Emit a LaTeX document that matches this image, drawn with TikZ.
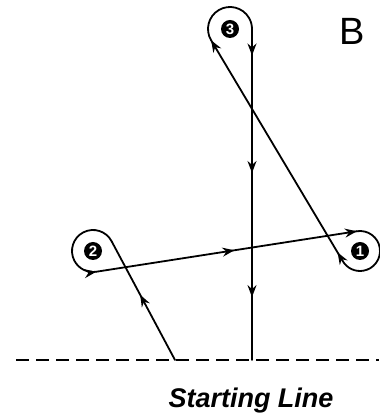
\documentclass[tikz,border=0pt]{standalone}
\usepackage{fontspec}
\newfontfamily\arialfont{Liberation Sans}
\usetikzlibrary{positioning, arrows.meta, calc, decorations.markings}

\begin{document}
\begin{tikzpicture}[
        x=1pt, y=1pt,
        track/.style={line width=1.8pt, line cap=round},
        tipat/.style={postaction={decorate, decoration={markings, mark=at position #1 with {\arrow{Stealth[length=12pt, width=9pt, inset=4pt]}}}}},
        marker/.style={circle, fill=black, text=white, inner sep=0pt, minimum size=18pt, font=\arialfont\bfseries\fontsize{15}{15}\selectfont},
        startline/.style={line width=1.6pt, dash pattern=on 13pt off 7pt}
    ]
    \useasboundingbox (0,0) rectangle (379,419);

    \node[marker] (n1) at (360,168) {1};
    \node[marker] (n2) at (93,168) {2};
    \node[marker] (n3) at (230,390) {3};
    \node[font=\arialfont\fontsize{38}{38}\selectfont] (zone) at (352,388) {B};
    \node[font=\arialfont\bfseries\itshape\fontsize{27}{27}\selectfont, anchor=base] (caption) at (251,11) {Starting Line};

    \coordinate (go) at (175,59);
    \coordinate (t2in) at ($(n2)+(27:21)$);
    \coordinate (t2out) at ($(n2)+(279:21)$);
    \coordinate (t1in) at ($(n1)+(99:20)$);
    \coordinate (t1out) at ($(n1)+(210.8:20)$);
    \coordinate (t3in) at ($(n3)+(210.8:22)$);
    \coordinate (t3out) at ($(n3)+(0:22)$);
    \coordinate (finish) at (t3out |- go);
    \coordinate (lineL) at (16,59);
    \coordinate (lineR) at (379,59);

    \draw[startline] (lineL) -- (lineR);
    \draw[track, tipat=0.55] (go) -- (t2in);
    \draw[track, tipat=1] (t2in) arc[start angle=27, end angle=279, radius=21];
    \draw[track, tipat=0.53, tipat=1] (t2out) -- (t1in);
    \draw[track] (t1in) arc[start angle=99, end angle=-149.2, radius=20];
    \draw[track, tipat=0.04, tipat=1] (t1out) -- (t3in);
    \draw[track] (t3in) arc[start angle=210.8, end angle=0, radius=22];
    \draw[track, tipat=0.08, tipat=0.435, tipat=0.81] (t3out) -- (finish);

\end{tikzpicture}
\end{document}
